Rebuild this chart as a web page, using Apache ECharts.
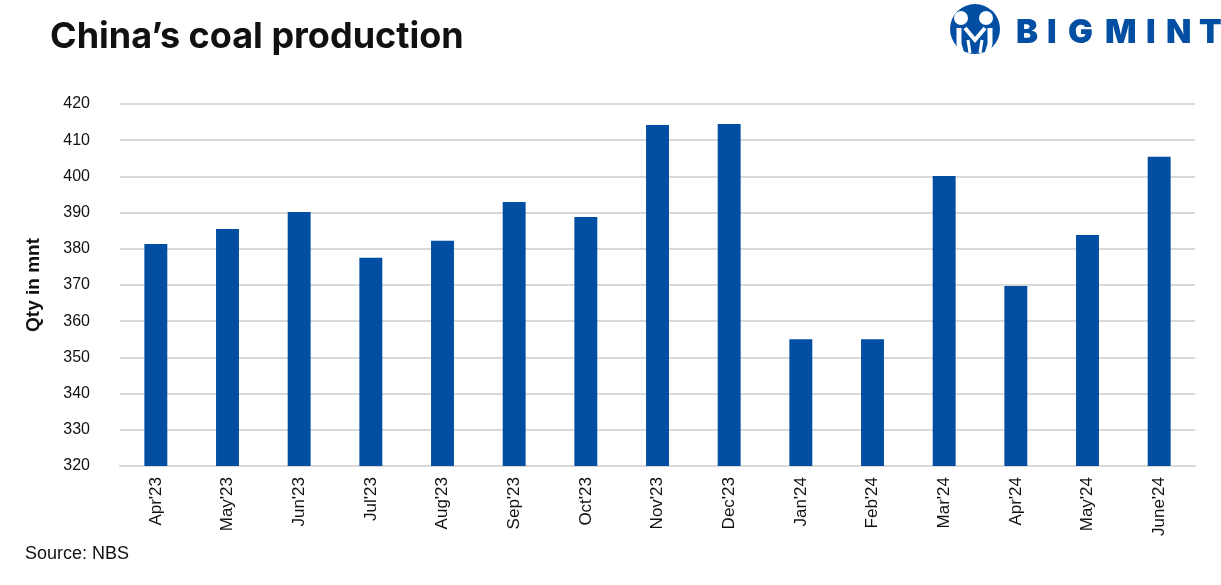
<!DOCTYPE html>
<html>
<head>
<meta charset="utf-8">
<script src="https://cdn.jsdelivr.net/npm/echarts@6/dist/echarts.min.js"></script>
<style>html,body{margin:0;padding:0;background:#fff}#c{width:1221px;height:585px}</style>
</head>
<body>
<div id="c"></div>
<script>
const categories = ["Apr'23","May'23","Jun'23","Jul'23","Aug'23","Sep'23","Oct'23","Nov'23","Dec'23","Jan'24","Feb'24","Mar'24","Apr'24","May'24","June'24"];
const production = [381.3, 385.5, 390.2, 377.5, 382.2, 392.9, 388.8, 414.2, 414.5, 355.0, 355.0, 400.1, 369.7, 383.8, 405.4];
const yMin = 320, yMax = 420, yStep = 10;
const title = "China\u2019s coal production";
const yAxisTitle = "Qty in mnt";
const sourceNote = "Source: NBS";
const logoLetters = ["B","I","G","M","I","N","T"];

const blue = '#024ea2';
const chart = echarts.init(document.getElementById('c'));
const logoGraphics = [
  {type:'circle', shape:{cx:975, cy:29, r:25}, style:{fill:blue}},
  {type:'circle', shape:{cx:961, cy:18, r:7}, style:{fill:'#fff'}},
  {type:'circle', shape:{cx:986, cy:18, r:7}, style:{fill:'#fff'}},
  {type:'polyline', shape:{points:[[959,28],[959,44],[962,54]]}, style:{stroke:'#fff', lineWidth:5, fill:null}},
  {type:'polyline', shape:{points:[[990,28],[990,44],[987,54]]}, style:{stroke:'#fff', lineWidth:5, fill:null}},
  {type:'polyline', shape:{points:[[965,28],[975,40],[985,28]]}, style:{stroke:'#fff', lineWidth:4, fill:null}},
  {type:'polyline', shape:{points:[[968,40],[970,53]]}, style:{stroke:'#fff', lineWidth:3, fill:null}},
  {type:'polyline', shape:{points:[[982,40],[980,53]]}, style:{stroke:'#fff', lineWidth:3, fill:null}}
];
const letterX = [1016, 1047, 1068, 1105, 1146, 1166, 1199];
logoLetters.forEach((ch, i) => {
  logoGraphics.push({type:'text', x:letterX[i], y:17, style:{text:ch, fill:blue, font:'900 33px Inter', textVerticalAlign:'top'}});
});

chart.setOption({
  animation:false,
  backgroundColor:'#fff',
  title:{text:title, left:45, top:14, textStyle:{fontFamily:'Inter', fontWeight:'bold', fontSize:36, color:'#111'}},
  graphic:[
    {type:'text', left:25, top:545, style:{text:sourceNote, font:'18px "Liberation Sans"', fill:'#111'}},
    ...logoGraphics
  ],
  grid:{left:120, right:26, top:104, bottom:119, containLabel:false},
  xAxis:{
    type:'category', data:categories,
    axisLine:{show:true, lineStyle:{color:'#d9d9d9', width:2}},
    axisTick:{show:false},
    axisLabel:{rotate:90, margin:11, fontFamily:'Liberation Sans', fontSize:17, color:'#111', interval:0}
  },
  yAxis:{
    type:'value', min:yMin, max:yMax, interval:yStep,
    name:yAxisTitle, nameLocation:'middle', nameGap:77, nameRotate:90,
    nameTextStyle:{fontFamily:'Liberation Sans', fontWeight:'bold', fontSize:19, color:'#111'},
    axisLine:{show:false}, axisTick:{show:false},
    splitLine:{lineStyle:{color:'#d9d9d9', width:2}},
    axisLabel:{margin:30, fontFamily:'Liberation Sans', fontSize:16, color:'#111'}
  },
  series:[{type:'bar', data:production, barWidth:'32%', itemStyle:{color:blue}}]
});
</script>
</body>
</html>
